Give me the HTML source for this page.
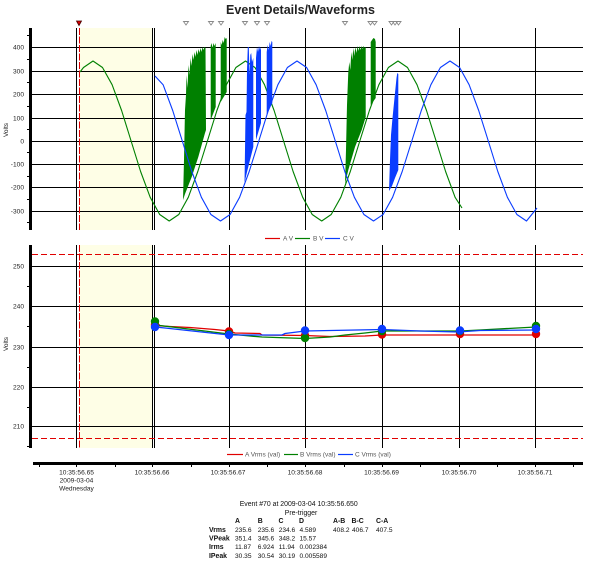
<!DOCTYPE html>
<html><head><meta charset="utf-8"><style>
html,body{margin:0;padding:0;background:#fff;}
svg{display:block;}
</style></head><body>
<svg xmlns="http://www.w3.org/2000/svg" width="605" height="564" viewBox="0 0 605 564" font-family="'Liberation Sans', sans-serif">
<rect width="605" height="564" fill="#fff"/>
<text x="300.5" y="14" text-anchor="middle" font-size="12.5" font-weight="bold" fill="#222">Event Details/Waveforms</text>

<!-- markers -->
<polygon points="76.5,21 81.5,21 79,25.5" fill="#e00000" stroke="#400" stroke-width="0.8"/>
<g fill="none" stroke="#888" stroke-width="0.9">
<polygon points="183.5,21.5 188.5,21.5 186,25"/>
<polygon points="208.5,21.5 213.5,21.5 211,25"/>
<polygon points="218.5,21.5 223.5,21.5 221,25"/>
<polygon points="242.5,21.5 247.5,21.5 245,25"/>
<polygon points="254.5,21.5 259.5,21.5 257,25"/>
<polygon points="264.5,21.5 269.5,21.5 267,25"/>
<polygon points="342.5,21.5 347.5,21.5 345,25"/>
<polygon points="368,21.5 373,21.5 370.5,25"/>
<polygon points="372,21.5 377,21.5 374.5,25"/>
<polygon points="389,21.5 394,21.5 391.5,25"/>
<polygon points="392.5,21.5 397.5,21.5 395,25"/>
<polygon points="396,21.5 401,21.5 398.5,25"/>
</g>

<!-- shaded -->
<rect x="80" y="28" width="73" height="202" fill="#fefee6"/>
<rect x="80" y="245" width="73" height="203" fill="#fefee6"/>

<!-- top grid -->
<g stroke="#000" stroke-width="1" shape-rendering="crispEdges">
<line x1="32" y1="47.5" x2="583" y2="47.5"/>
<line x1="32" y1="71.5" x2="583" y2="71.5"/>
<line x1="32" y1="94.5" x2="583" y2="94.5"/>
<line x1="32" y1="118.5" x2="583" y2="118.5"/>
<line x1="32" y1="141.5" x2="583" y2="141.5"/>
<line x1="32" y1="164.5" x2="583" y2="164.5"/>
<line x1="32" y1="187.5" x2="583" y2="187.5"/>
<line x1="32" y1="211.5" x2="583" y2="211.5"/>
<line x1="76.5" y1="28" x2="76.5" y2="230"/>
<line x1="152.5" y1="28" x2="152.5" y2="230"/>
<line x1="154.5" y1="28" x2="154.5" y2="230"/>
<line x1="229.5" y1="28" x2="229.5" y2="230"/>
<line x1="305.5" y1="28" x2="305.5" y2="230"/>
<line x1="382.5" y1="28" x2="382.5" y2="230"/>
<line x1="459.5" y1="28" x2="459.5" y2="230"/>
<line x1="535.5" y1="28" x2="535.5" y2="230"/>
<!-- bottom grid -->
<line x1="32" y1="266.5" x2="583" y2="266.5"/>
<line x1="32" y1="306.5" x2="583" y2="306.5"/>
<line x1="32" y1="347.5" x2="583" y2="347.5"/>
<line x1="32" y1="387.5" x2="583" y2="387.5"/>
<line x1="32" y1="426.5" x2="583" y2="426.5"/>
<line x1="76.5" y1="245" x2="76.5" y2="448"/>
<line x1="152.5" y1="245" x2="152.5" y2="448"/>
<line x1="154.5" y1="245" x2="154.5" y2="448"/>
<line x1="229.5" y1="245" x2="229.5" y2="448"/>
<line x1="305.5" y1="245" x2="305.5" y2="448"/>
<line x1="382.5" y1="245" x2="382.5" y2="448"/>
<line x1="459.5" y1="245" x2="459.5" y2="448"/>
<line x1="535.5" y1="245" x2="535.5" y2="448"/>
<!-- y minor ticks -->
<line x1="27" y1="35.5" x2="29" y2="35.5"/>
<line x1="27" y1="59.5" x2="29" y2="59.5"/>
<line x1="27" y1="82.5" x2="29" y2="82.5"/>
<line x1="27" y1="106.5" x2="29" y2="106.5"/>
<line x1="27" y1="129.5" x2="29" y2="129.5"/>
<line x1="27" y1="152.5" x2="29" y2="152.5"/>
<line x1="27" y1="176.5" x2="29" y2="176.5"/>
<line x1="27" y1="199.5" x2="29" y2="199.5"/>
<line x1="27" y1="222.5" x2="29" y2="222.5"/>
<line x1="27" y1="286.5" x2="29" y2="286.5"/>
<line x1="27" y1="326.5" x2="29" y2="326.5"/>
<line x1="27" y1="367.5" x2="29" y2="367.5"/>
<line x1="27" y1="407.5" x2="29" y2="407.5"/>
<line x1="27" y1="446.5" x2="29" y2="446.5"/>
</g>

<!-- red dashed -->
<g stroke="#e00000" stroke-width="1" fill="none" shape-rendering="crispEdges">
<line x1="79.5" y1="28" x2="79.5" y2="230" stroke-dasharray="7,1.5"/>
<line x1="79.5" y1="245" x2="79.5" y2="448" stroke-dasharray="7,1.5"/>
<line x1="32" y1="254.5" x2="583" y2="254.5" stroke-dasharray="6,3"/>
<line x1="32" y1="438.5" x2="583" y2="438.5" stroke-dasharray="6,3"/>
</g>

<!-- axes -->
<rect x="29" y="28" width="3" height="202" fill="#000"/>
<rect x="29" y="245" width="3" height="203" fill="#000"/>

<!-- tick labels -->
<g font-size="6.6" fill="#222" text-anchor="end">
<text x="24" y="49.5">400</text>
<text x="24" y="73.5">300</text>
<text x="24" y="96.5">200</text>
<text x="24" y="120.5">100</text>
<text x="24" y="143.5">0</text>
<text x="24" y="166.5">-100</text>
<text x="24" y="189.5">-200</text>
<text x="24" y="213.5">-300</text>
<text x="24" y="268.5">250</text>
<text x="24" y="308.5">240</text>
<text x="24" y="349.5">230</text>
<text x="24" y="389.5">220</text>
<text x="24" y="428.5">210</text>
</g>
<text transform="translate(8,130) rotate(-90)" text-anchor="middle" font-size="6.5" fill="#222">Volts</text>
<text transform="translate(8,344) rotate(-90)" text-anchor="middle" font-size="6.5" fill="#222">Volts</text>

<!-- green waveform -->
<g fill="#008000" stroke="none">
<polygon points="183,200 184,160 185,110 186,95 186.5,75 187.5,88 188.5,65 189.5,75 190.5,58 191.5,66 192.5,54 193.5,60 194.5,52 195.5,57 196.5,50 197.5,55 198.5,49 199.5,53 200.5,48 201.5,52 202.5,47 203.5,50 204.5,47 205.5,48 206,130 205,133 198.3,157 191.7,177 185,194"/>
<polygon points="210.7,120 210.7,46 211.5,43 212.5,48 213.5,43 214.5,46 215.7,43 215.7,107"/>
<polygon points="220.7,102 220.7,42 221.7,45 222.7,40 223.7,43 224.7,37 225.7,39 226.7,38 226.7,92"/>
<polygon points="345,184 346,150 347,105 348.3,72 349.3,62 350.3,70 351.3,52 352.3,60 353.3,48 354.3,56 355.3,47 356.5,53 357.5,46 358.5,51 359.5,46 360.5,50 361.5,46 362.5,49 363.5,46 364.5,48 365.7,47 365.7,117 361.7,130 355,147 348.3,170"/>
<polygon points="370.7,105 370.7,42 372,40 373.5,38 375,39 375.7,42 375.7,98"/>
</g>
<polyline fill="none" stroke="#008000" stroke-width="1.1" stroke-linejoin="round" points="80,72 83.5,67.5 93,61 102.5,67.5 112.1,84.7 121.6,110.5 131.1,141 140.6,171.5 150.2,197.3 159.7,214.5 169.2,221 178.8,214.5 188.3,197.3 197.8,171.5 207.4,141 216.9,110.5 226.4,84.7 235.9,67.5 245.5,61 255,67.5 264.5,84.7 274.1,110.5 283.6,141 293.1,171.5 302.7,197.3 312.2,214.5 321.7,221 331.2,214.5 340.8,197.3 350.3,171.5 359.8,141 369.4,110.5 378.9,84.7 388.4,67.5 398,61 407.5,67.5 417,84.7 426.5,110.5 436.1,141 445.6,171.5 455.1,197.3 462,208"/>

<!-- blue waveform -->
<g fill="#0a3cff" stroke="none">
<polygon points="244.5,183 245,150 245.5,115 246.5,112 247,70 247.8,47 248.8,47 249.5,75 250.3,55 251.2,53 252,62 253.3,58 253.3,147 250,160 247,172"/>
<polygon points="256,140 256,58 257,47 258,52 259,46 260,50 261,47 261,123"/>
<polygon points="266.7,115 266.7,52 267.7,45 268.7,50 269.7,42 270.7,46 271.5,41 272.3,42 272.3,103"/>
<polygon points="389,191 390,160 391,135 392.5,118 394,103 395.5,88 396.5,78 397.3,73 398.3,74 398.3,170 395,178 392,186"/>
</g>
<polyline fill="none" stroke="#0a3cff" stroke-width="1.1" stroke-linejoin="round" points="155,76 163.1,84.7 172.7,110.5 182.3,141 191.8,171.5 201.4,197.3 210.9,214.5 220.5,221 230.1,214.5 239.6,197.3 249.2,171.5 258.8,141 268.3,110.5 277.9,84.7 287.4,67.5 297,61 306.6,67.5 316.1,84.7 325.7,110.5 335.3,141 344.8,171.5 354.4,197.3 363.9,214.5 373.5,221 383.1,214.5 392.6,197.3 402.2,171.5 411.8,141 421.3,110.5 430.9,84.7 440.4,67.5 450,61 459.6,67.5 469.1,84.7 478.7,110.5 488.3,141 497.8,171.5 507.4,197.3 516.9,214.5 526.5,221 537,208"/>

<!-- top legend -->
<g font-size="6.5" fill="#555">
<line x1="265" y1="238.5" x2="280" y2="238.5" stroke="#e00000" stroke-width="1.2"/>
<text x="283" y="240.5">A V</text>
<line x1="295" y1="238.5" x2="310" y2="238.5" stroke="#008000" stroke-width="1.2"/>
<text x="313" y="240.5">B V</text>
<line x1="325" y1="238.5" x2="340" y2="238.5" stroke="#0a3cff" stroke-width="1.2"/>
<text x="343" y="240.5">C V</text>
</g>

<!-- bottom chart series -->
<g fill="none" stroke-width="1.3">
<polyline stroke="#e00000" points="155,325.5 170,326.5 190,327.5 215,329.5 229,331 235,333 260,333.5 262,335 305,335.5 330,336.5 365,336 382,335 536,335"/>
<polyline stroke="#008000" points="155,322 160,325.5 229,334 250,336 262,337 305,338.5 330,337 345,335 365,333 382,331 460,331 480,330 536,327"/>
<polyline stroke="#0a3cff" points="155,327 165,328 229,335 282,335 285,333.5 305,331 382,329.5 420,331 458,332 480,330.5 536,330"/>
</g>
<g fill="#e00000">
<circle cx="155" cy="325" r="4.2"/><circle cx="229" cy="331.5" r="4.2"/><circle cx="305" cy="335.5" r="4.2"/><circle cx="382" cy="334.5" r="4.2"/><circle cx="460" cy="334" r="4.2"/><circle cx="536" cy="334" r="4.2"/>
</g>
<g fill="#008000">
<circle cx="155" cy="321.5" r="4.2"/><circle cx="229" cy="334" r="4.2"/><circle cx="305" cy="338" r="4.2"/><circle cx="382" cy="331" r="4.2"/><circle cx="460" cy="331" r="4.2"/><circle cx="536" cy="326" r="4.2"/>
</g>
<g fill="#0a3cff">
<circle cx="155" cy="327" r="4.2"/><circle cx="229" cy="335" r="4.2"/><circle cx="305" cy="330.5" r="4.2"/><circle cx="382" cy="329" r="4.2"/><circle cx="460" cy="330.5" r="4.2"/><circle cx="536" cy="329" r="4.2"/>
</g>

<!-- bottom legend -->
<g font-size="6.5" fill="#555">
<line x1="227" y1="454.5" x2="243" y2="454.5" stroke="#e00000" stroke-width="1.2"/>
<text x="245" y="456.7">A Vrms (val)</text>
<line x1="284" y1="454.5" x2="298" y2="454.5" stroke="#008000" stroke-width="1.2"/>
<text x="300" y="456.7">B Vrms (val)</text>
<line x1="338" y1="454.5" x2="353" y2="454.5" stroke="#0a3cff" stroke-width="1.2"/>
<text x="355" y="456.7">C Vrms (val)</text>
</g>

<!-- x axis -->
<rect x="33" y="462" width="550" height="3" fill="#000"/>
<g stroke="#000" stroke-width="1" shape-rendering="crispEdges">
<line x1="39.5" y1="465" x2="39.5" y2="467"/><line x1="76.5" y1="465" x2="76.5" y2="467"/><line x1="115.5" y1="465" x2="115.5" y2="467"/><line x1="152.5" y1="465" x2="152.5" y2="467"/><line x1="191.5" y1="465" x2="191.5" y2="467"/><line x1="229.5" y1="465" x2="229.5" y2="467"/><line x1="267.5" y1="465" x2="267.5" y2="467"/><line x1="305.5" y1="465" x2="305.5" y2="467"/><line x1="344.5" y1="465" x2="344.5" y2="467"/><line x1="382.5" y1="465" x2="382.5" y2="467"/><line x1="420.5" y1="465" x2="420.5" y2="467"/><line x1="459.5" y1="465" x2="459.5" y2="467"/><line x1="497.5" y1="465" x2="497.5" y2="467"/><line x1="535.5" y1="465" x2="535.5" y2="467"/><line x1="573.5" y1="465" x2="573.5" y2="467"/>
</g>
<g font-size="6.6" fill="#222" text-anchor="middle">
<text x="76.5" y="474.3">10:35:56.65</text>
<text x="76.5" y="482.3">2009-03-04</text>
<text x="76.5" y="490.3">Wednesday</text>
<text x="152" y="474.3">10:35:56.66</text>
<text x="228" y="474.3">10:35:56.67</text>
<text x="305" y="474.3">10:35:56.68</text>
<text x="381.5" y="474.3">10:35:56.69</text>
<text x="459" y="474.3">10:35:56.70</text>
<text x="535" y="474.3">10:35:56.71</text>
</g>

<!-- event summary -->
<g font-size="6.9" fill="#111">
<text x="298.7" y="506" text-anchor="middle">Event #70 at 2009-03-04 10:35:56.650</text>
<text x="301" y="515" text-anchor="middle">Pre-trigger</text>
<g font-weight="bold">
<text x="235" y="523">A</text><text x="257.7" y="523">B</text><text x="278.5" y="523">C</text><text x="299" y="523">D</text>
<text x="333" y="523">A-B</text><text x="351.5" y="523">B-C</text><text x="376" y="523">C-A</text>
<text x="209" y="531.8">Vrms</text>
<text x="209" y="540.5">VPeak</text>
<text x="209" y="549.2">Irms</text>
<text x="209" y="558.2">IPeak</text>
</g>
<g font-size="6.6">
<text x="235" y="531.8">235.6</text><text x="257.7" y="531.8">235.6</text><text x="278.7" y="531.8">234.6</text><text x="299.5" y="531.8">4.589</text>
<text x="333" y="531.8">408.2</text><text x="352" y="531.8">406.7</text><text x="376" y="531.8">407.5</text>
<text x="235" y="540.5">351.4</text><text x="257.7" y="540.5">345.6</text><text x="278.7" y="540.5">348.2</text><text x="299.5" y="540.5">15.57</text>
<text x="235" y="549.2">11.87</text><text x="257.7" y="549.2">6.924</text><text x="278.7" y="549.2">11.94</text><text x="299.5" y="549.2">0.002384</text>
<text x="235" y="558.2">30.35</text><text x="257.7" y="558.2">30.54</text><text x="278.7" y="558.2">30.19</text><text x="299.5" y="558.2">0.005589</text>
</g>
</g>
</svg>
</body></html>
